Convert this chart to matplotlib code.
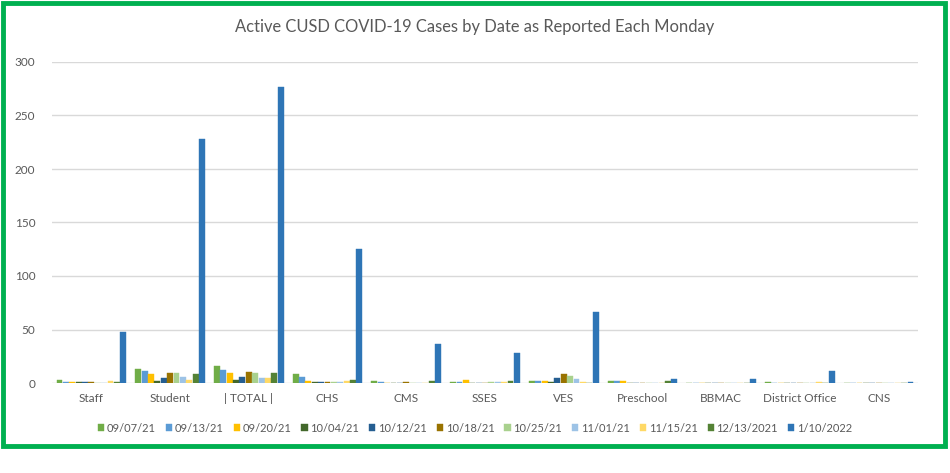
import matplotlib
matplotlib.use("Agg")
import matplotlib.pyplot as plt
import numpy as np
from matplotlib.patches import Rectangle

categories = ["Staff", "Student", "| TOTAL |", "CHS", "CMS", "SSES", "VES",
              "Preschool", "BBMAC", "District Office", "CNS"]
series_labels = ["09/07/21", "09/13/21", "09/20/21", "10/04/21", "10/12/21",
                 "10/18/21", "10/25/21", "11/01/21", "11/15/21", "12/13/2021", "1/10/2022"]

v_0907 = [3, 13, 16, 8, 2, 1, 2, 2, 0, 1, 0]
v_0913 = [1, 11, 12, 6, 1, 1, 2, 2, 0, 0, 0]
v_0920 = [1, 8, 9, 2, 0, 3, 2, 2, 0, 0, 0]
v_1004 = [1, 2, 3, 1, 0, 0, 1, 0, 0, 0, 0]
v_1012 = [1, 5, 6, 1, 0, 0, 5, 0, 0, 0, 0]
v_1018 = [1, 9, 10, 1, 1, 0, 8, 0, 0, 0, 0]
v_1025 = [0, 9, 9, 1, 0, 1, 7, 0, 0, 0, 0]
v_1101 = [0, 6, 5, 1, 0, 1, 4, 0, 0, 0, 0]
v_1115 = [2, 3, 5, 2, 0, 1, 1, 0, 0, 1, 0]
v_1213 = [1, 8, 9, 3, 2, 2, 0, 2, 0, 0, 0]
v_0110 = [48, 228, 277, 125, 36, 28, 66, 4, 4, 11, 1]

all_values = [v_0907, v_0913, v_0920, v_1004, v_1012, v_1018,
              v_1025, v_1101, v_1115, v_1213, v_0110]
colors = ["#70AD47", "#5B9BD5", "#FFC000", "#43682B", "#255E91", "#997300",
          "#A9D18E", "#9DC3E6", "#FFD966", "#548235", "#2E75B6"]

plt.rcParams['font.family'] = ['Lato', 'DejaVu Sans']

fig = plt.figure(figsize=(9.5, 4.73), dpi=100)
W, H = 950, 473
# green border
fig.patches.append(Rectangle((3/W, 1 - 446/H), 942/W, 443/H, transform=fig.transFigure,
                             fill=False, edgecolor="#00B050", linewidth=3.5, zorder=10))

ax = fig.add_axes([52/W, 90/H, 866/W, 321/H])
n = len(all_values)
bw = 0.075
x = np.arange(len(categories))
for i, (vals, c) in enumerate(zip(all_values, colors)):
    offs = (i - (n - 1) / 2) * bw * 1.08
    ax.bar(x + offs, vals, width=bw, color=c, label=series_labels[i], zorder=3,
           edgecolor=c, linewidth=0.3)

ax.set_xlim(-0.5, len(categories) - 0.5)
ax.set_ylim(0, 300)
ax.set_yticks(range(0, 301, 50))
ax.set_xticks(x)
ax.set_xticklabels(categories)
ax.tick_params(axis='both', length=0, labelsize=8.5, colors="#595959")
ax.tick_params(axis='x', pad=7)
ax.tick_params(axis='y', pad=12)
for s in ax.spines.values():
    s.set_visible(False)
ax.grid(axis='y', color="#D9D9D9", linewidth=1, zorder=0)
ax.set_axisbelow(True)

fig.text(0.5, 1 - 27/H, "Active CUSD COVID-19 Cases by Date as Reported Each Monday",
         ha='center', va='center', fontsize=11.9, color="#595959")

leg = fig.legend(loc='center', bbox_to_anchor=(0.5, 1 - 428/H), ncol=11, frameon=False,
                 fontsize=8, handlelength=0.55, handleheight=0.55, handletextpad=0.25,
                 columnspacing=0.9, labelcolor="#595959")

fig.savefig("out.png", dpi=100)
